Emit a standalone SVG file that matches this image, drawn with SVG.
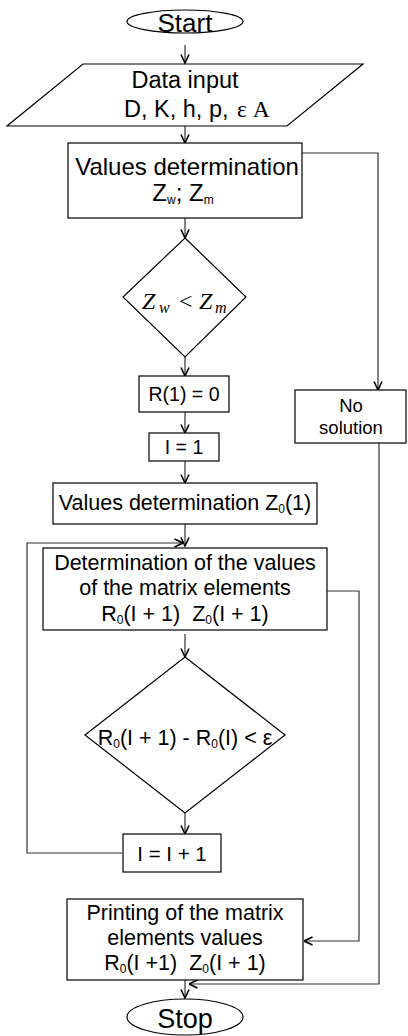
<svg xmlns="http://www.w3.org/2000/svg" width="408" height="1036" viewBox="0 0 408 1036">
<defs>
<style>
.s{fill:#fff;stroke:#000;stroke-width:1.2}
.c{fill:none;stroke:#333;stroke-width:1.2}
.t{font-family:"Liberation Sans",Arial,sans-serif;fill:#000;text-anchor:middle}
.tm{font-family:"Liberation Serif","Times New Roman",serif;fill:#000}
.sub{font-size:12px}
</style>
<marker id="ah" viewBox="0 0 10 10" refX="9.5" refY="5" markerWidth="10" markerHeight="10" orient="auto" markerUnits="userSpaceOnUse">
<path d="M1,1 L9.5,5 L1,9" fill="none" stroke="#000" stroke-width="1.6"/>
</marker>
</defs>
<rect width="408" height="1036" fill="#fff"/>

<g id="connectors">
<path class="c" d="M185,45 V63" marker-end="url(#ah)"/>
<path class="c" d="M185,126 V143" marker-end="url(#ah)"/>
<path class="c" d="M185,218 V238" marker-end="url(#ah)"/>
<path class="c" d="M302,153 H378 V390" marker-end="url(#ah)"/>
<path class="c" d="M185,357 V376" marker-end="url(#ah)"/>
<path class="c" d="M185,412 V433" marker-end="url(#ah)"/>
<path class="c" d="M185,461 V483" marker-end="url(#ah)"/>
<path class="c" d="M185,524 V546" marker-end="url(#ah)"/>
<path class="c" d="M122,853 H27 V543 H183" marker-end="url(#ah)"/>
<path class="c" d="M185,634 V657" marker-end="url(#ah)"/>
<path class="c" d="M185,813 V834" marker-end="url(#ah)"/>
<path class="c" d="M327,591 H359 V941 H304" marker-end="url(#ah)"/>
<path class="c" d="M185,980 V998" marker-end="url(#ah)"/>
<path class="c" d="M379,443 V984 H189" marker-end="url(#ah)"/>
</g>

<g id="start">
<ellipse class="s" cx="185" cy="21.5" rx="58" ry="11.5"/>
<text class="t" x="185" y="32" font-size="26">Start</text>
</g>

<g id="input">
<polygon class="s" points="83,64 363,64 287,126 7,126"/>
<text class="t" x="185" y="88" font-size="23.5">Data input</text>
<text x="124" y="117" font-size="23.5" style="font-family:'Liberation Sans',Arial,sans-serif">D, K, h, p,</text>
<text class="tm" x="237" y="117" font-size="23.5">ε A</text>
</g>

<g id="values1">
<rect class="s" x="68" y="143" width="234" height="75"/>
<text class="t" x="187" y="175" font-size="24">Values determination</text>
<text class="t" x="183" y="201" font-size="24">Z<tspan class="sub" dy="3">w</tspan><tspan dy="-3">; Z</tspan><tspan class="sub" dy="3">m</tspan></text>
</g>

<g id="decision1">
<polygon class="s" points="185,238 246,297 185,357 123,297"/>
<text class="tm" y="309" font-size="24"><tspan x="142" font-style="italic">Z</tspan><tspan x="159" dy="4" font-size="16" font-style="italic">w</tspan><tspan x="179" dy="-4">&lt;</tspan><tspan x="199" font-style="italic">Z</tspan><tspan x="215" dy="4" font-size="16" font-style="italic">m</tspan></text>
</g>

<g id="nosolution">
<rect class="s" x="295" y="390" width="111" height="53"/>
<text class="t" x="351" y="412" font-size="18.5">No</text>
<text class="t" x="351" y="434" font-size="18.5">solution</text>
</g>

<g id="r1">
<rect class="s" x="139" y="376" width="90" height="36"/>
<text class="t" x="184" y="401" font-size="19.5">R(1) = 0</text>
</g>

<g id="i1">
<rect class="s" x="149" y="433" width="70" height="28"/>
<text class="t" x="184" y="454" font-size="19.5">I = 1</text>
</g>

<g id="values0">
<rect class="s" x="53" y="483" width="264" height="41"/>
<text class="t" x="185" y="510" font-size="21.5">Values determination Z<tspan class="sub" dy="3">0</tspan><tspan dy="-3">(1)</tspan></text>
</g>

<g id="matrix">
<rect class="s" x="43" y="548" width="284" height="82"/>
<text class="t" x="185" y="570" font-size="21.5">Determination of the values</text>
<text class="t" x="185" y="595" font-size="21.5">of the matrix elements</text>
<text class="t" x="185" y="621" font-size="21.5" xml:space="preserve">R<tspan class="sub" dy="3">0</tspan><tspan dy="-3">(I + 1)  Z</tspan><tspan class="sub" dy="3">0</tspan><tspan dy="-3">(I + 1)</tspan></text>
</g>

<g id="decision2">
<polygon class="s" points="185,657 285,735 185,813 85,735"/>
<text class="t" x="185" y="745" font-size="21.5">R<tspan class="sub" dy="3">0</tspan><tspan dy="-3">(I + 1) - R</tspan><tspan class="sub" dy="3">0</tspan><tspan dy="-3">(I) &lt; ε</tspan></text>
</g>

<g id="increment">
<rect class="s" x="123" y="834" width="98" height="38"/>
<text class="t" x="172" y="861" font-size="20.5">I = I + 1</text>
</g>

<g id="printing">
<rect class="s" x="67" y="899" width="236" height="81"/>
<text class="t" x="185" y="920" font-size="21.5">Printing of the matrix</text>
<text class="t" x="185" y="945" font-size="21.5">elements values</text>
<text class="t" x="185" y="970" font-size="21.5" xml:space="preserve">R<tspan class="sub" dy="3">0</tspan><tspan dy="-3">(I +1)  Z</tspan><tspan class="sub" dy="3">0</tspan><tspan dy="-3">(I + 1)</tspan></text>
</g>

<g id="stop">
<ellipse class="s" cx="185" cy="1017" rx="58" ry="18"/>
<text class="t" x="185" y="1028" font-size="27">Stop</text>
</g>
</svg>
